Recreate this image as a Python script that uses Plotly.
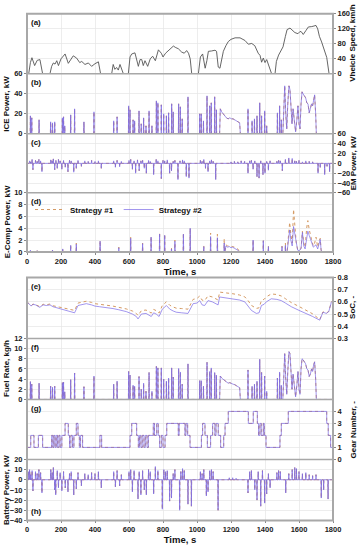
import plotly.graph_objects as go

# ---------------- data ----------------
TIME_TICKS = [0, 200, 400, 600, 800, 1000, 1200, 1400, 1600, 1800]

SPEED = [(0,0),(10,0),(20,30),(29,43),(45,22),(60,36),(76,38),(92,0),(135,0),(145,20),(155,29),(165,26),
         (175,35),(185,22),(200,40),(224,53),(243,28),(260,40),(272,48),(292,42),(310,30),(322,33),(341,25),
         (361,29),(380,20),(400,27),(420,32),(433,0),(498,0),(507,25),(517,12),(527,17),(537,10),(547,25),
         (567,0),(596,0),(606,45),(616,53),(635,56),(655,20),(665,38),(675,38),(684,22),(694,35),(710,20),
         (725,40),(739,47),(755,35),(773,64),(790,55),(800,45),(815,55),(831,62),(845,68),(861,74),(875,70),
         (890,67),(910,58),(925,55),(939,62),(950,55),(960,40),(969,0),(1008,0),(1020,45),(1033,53),(1048,15),
         (1058,35),(1067,60),(1086,61),(1106,63),(1115,60),(1125,18),(1135,15),(1145,35),(1155,60),(1170,75),
         (1184,86),(1200,92),(1224,96),(1253,96),(1282,89),(1302,79),(1322,81),(1340,75),(1351,63),(1360,55),
         (1371,49),(1380,31),(1390,42),(1400,30),(1410,38),(1420,25),(1430,15),(1439,0),(1459,0),(1467,33),
         (1480,50),(1496,63),(1506,72),(1520,100),(1530,118),(1547,122),(1560,116),(1576,110),(1594,107),
         (1606,113),(1614,112),(1625,105),(1640,115),(1655,125),(1675,126),(1694,127),(1700,129),(1710,120),
         (1720,100),(1733,85),(1747,65),(1763,44),(1777,0),(1800,0)]

ICE_S2 = [(20,18),(28,16),(71,14),(139,12),(150,11),(163,12),(208,16),(215,17),(222,8),(257,19),(280,25),
          (335,12),(394,22),(510,13),(530,17),(598,28),(606,24),(624,14),(633,13),(659,23),(672,10),(686,16),
          (700,8),(718,23),(735,8),(761,33),(770,31),(790,29),(804,20),(820,18),(833,21),(851,30),(860,22),
          (892,30),(902,27),(913,15),(947,37),(1016,20),(1025,20),(1038,13),(1059,38),(1075,28),(1084,31),
          (1104,37),(1114,24),(1300,25),(1324,13),(1338,15),(1353,18),(1369,31),(1380,18),(1398,23),(1410,8),
          (1473,21),(1486,28),(1496,14)]
ICE_S1 = ICE_S2
ICE_BAND1 = [(1133,0),(1137,25),(1145,22),(1153,20),(1163,18),(1173,16),(1183,15),(1193,16),(1203,15),
             (1212,15),(1222,14),(1235,13),(1245,12),(1251,11),(1255,0)]
ICE_BAND2 = [(1505,0),(1510,30),(1516,48),(1522,20),(1528,5),(1534,30),(1541,48),(1547,44),(1553,30),
             (1559,10),(1565,25),(1572,15),(1580,2),(1588,15),(1594,28),(1600,10),(1606,5),(1612,30),(1618,42),
             (1624,40),(1630,38),(1639,36),(1646,31),(1653,30),(1660,21),(1667,25),(1674,30),(1680,28),
             (1686,35),(1692,39),(1698,20),(1702,0)]

EM_S2 = [(15,5),(22,3),(30,8),(35,-13),(50,6),(60,4),(70,8),(80,5),(88,-17),(140,7),(148,5),(155,9),
         (163,-13),(170,6),(178,-10),(185,8),(195,5),(205,-12),(215,6),(225,-8),(241,-17),(250,6),(260,5),
         (275,-18),(290,-10),(300,6),(320,-6),(340,5),(360,4),(380,6),(400,4),(420,5),(437,-10),(510,5),
         (520,-8),(530,6),(545,-7),(555,4),(600,6),(610,8),(620,-12),(630,5),(639,-20),(650,7),(660,-15),
         (670,5),(680,6),(690,-10),(702,-20),(715,6),(725,4),(745,-23),(760,8),(770,5),(790,-31),(800,6),
         (810,5),(825,7),(839,-20),(850,-15),(860,4),(870,6),(888,-33),(900,5),(915,7),(925,5),(937,-27),
         (953,-30),(1020,6),(1030,4),(1040,8),(1050,-10),(1065,-17),(1075,5),(1085,7),(1095,4),(1110,-33),
         (1200,3),(1220,4),(1240,3),(1260,5),(1280,4),(1300,-20),(1310,5),(1320,6),(1330,-12),(1340,5),
         (1353,-27),(1365,-30),(1375,5),(1388,-23),(1400,-20),(1410,4),(1420,-14),(1430,5),(1470,4),(1480,6),
         (1490,5),(1502,-15),(1520,8),(1540,11),(1560,10),(1575,5),(1585,4),(1600,6),(1620,3),(1640,5),
         (1660,4),(1680,3),(1712,-20),(1725,-8),(1751,-23),(1765,-6),(1780,-17)]
EM_S1 = EM_S2

EC_S2 = [(20,0.3),(60,0.2),(150,0.3),(210,0.5),(257,1.1),(290,1.3),(430,1.8),(540,0.7),(610,2.3),(680,1.4),
         (730,2.5),(780,3.0),(810,2.8),(850,0.5),(870,1.8),(920,3.0),(960,4.0),(1040,0.9),(1080,2.6),(1120,2.4),
         (1160,1.5),(1330,2.0),(1390,1.9),(1420,0.9),(1500,0.9),(1520,1.1)]
EC_S1 = [(20,0.3),(60,0.2),(150,0.3),(210,0.6),(257,1.2),(290,1.5),(430,1.9),(540,0.8),(610,2.5),(680,1.5),
         (730,2.6),(780,3.3),(810,3.0),(850,0.6),(870,2.0),(920,3.2),(960,4.0),(1040,1.0),(1080,3.2),(1120,3.0),
         (1160,2.2),(1330,2.0),(1390,1.9),(1420,1.0),(1500,1.0),(1520,1.5)]
EC_BAND1_S2 = [(1165,0),(1170,1.0),(1180,0.8),(1190,0.9),(1200,0.7),(1210,0.8),(1220,0.6),(1230,0.5),
               (1240,0.3),(1250,0)]
EC_BAND1_S1 = [(1165,0),(1170,1.2),(1180,1.0),(1190,1.0),(1200,0.9),(1210,0.9),(1220,0.8),(1230,0.7),
               (1240,0.5),(1250,0)]
EC_BAND2_S2 = [(1530,0),(1538,2.0),(1545,3.7),(1552,2.0),(1560,1.0),(1568,4.3),(1576,3.0),(1584,1.0),
               (1592,0.3),(1600,0.2),(1612,0.5),(1620,3.3),(1628,1.0),(1636,0.5),(1645,2.5),(1652,3.5),
               (1660,2.8),(1668,2.0),(1676,1.5),(1684,0.8),(1692,1.0),(1700,1.2),(1710,0.5),(1718,1.5),
               (1725,2.1),(1730,0.3),(1735,0)]
EC_BAND2_S1 = [(1530,0),(1538,2.5),(1545,5.0),(1552,3.0),(1560,1.5),(1568,7.2),(1576,4.5),(1584,1.5),
               (1592,0.4),(1600,0.3),(1612,0.6),(1620,3.5),(1628,1.5),(1636,0.8),(1645,4.0),(1652,5.3),
               (1660,3.8),(1668,2.5),(1676,1.8),(1684,1.0),(1692,1.5),(1700,2.5),(1710,0.8),(1718,1.8),
               (1725,2.3),(1730,0.3),(1735,0)]

SOC_S2 = [(0,0.600),(25,0.565),(35,0.580),(50,0.575),(75,0.555),(95,0.575),(114,0.570),(135,0.575),
          (153,0.560),(180,0.550),(210,0.540),(231,0.530),(260,0.520),(280,0.510),(300,0.570),(320,0.575),
          (349,0.585),(380,0.575),(400,0.565),(427,0.560),(460,0.555),(506,0.545),(540,0.535),(584,0.520),
          (620,0.500),(643,0.480),(653,0.460),(673,0.500),(700,0.505),(731,0.480),(745,0.510),(760,0.500),
          (777,0.480),(796,0.540),(820,0.570),(840,0.540),(860,0.525),(878,0.515),(910,0.510),(947,0.505),
          (977,0.585),(1000,0.590),(1016,0.610),(1030,0.575),(1045,0.570),(1065,0.610),(1090,0.600),
          (1115,0.585),(1124,0.575),(1133,0.640),(1160,0.635),(1212,0.625),(1250,0.615),(1281,0.600),
          (1300,0.570),(1320,0.530),(1349,0.505),(1365,0.510),(1379,0.570),(1395,0.580),(1408,0.600),
          (1437,0.625),(1470,0.620),(1496,0.610),(1520,0.590),(1555,0.560),(1600,0.530),(1643,0.505),
          (1680,0.480),(1722,0.450),(1741,0.515),(1761,0.505),(1775,0.520),(1790,0.595),(1800,0.610)]
SOC_S1 = [(0,0.600),(25,0.568),(35,0.582),(50,0.578),(75,0.560),(95,0.580),(114,0.576),(135,0.582),
          (153,0.568),(180,0.560),(210,0.555),(231,0.545),(260,0.538),(280,0.530),(300,0.590),(320,0.595),
          (349,0.605),(380,0.595),(400,0.585),(427,0.580),(460,0.575),(506,0.565),(540,0.555),(584,0.542),
          (620,0.525),(643,0.505),(653,0.488),(673,0.528),(700,0.533),(731,0.508),(745,0.538),(760,0.528),
          (777,0.508),(796,0.570),(820,0.600),(840,0.572),(860,0.558),(878,0.548),(910,0.545),(947,0.540),
          (977,0.620),(1000,0.628),(1016,0.648),(1030,0.614),(1045,0.610),(1065,0.650),(1090,0.640),
          (1115,0.625),(1124,0.615),(1133,0.680),(1160,0.676),(1212,0.666),(1250,0.656),(1281,0.641),
          (1300,0.611),(1320,0.571),(1349,0.546),(1365,0.551),(1379,0.611),(1395,0.621),(1408,0.641),
          (1437,0.665),(1470,0.660),(1496,0.648),(1520,0.626),(1555,0.594),(1600,0.562),(1643,0.533),
          (1680,0.502),(1722,0.455),(1741,0.518),(1761,0.508),(1775,0.522),(1790,0.597),(1800,0.612)]

FUEL_S2 = [(20,3.5),(28,3.0),(71,3.2),(139,2.6),(150,2.4),(163,2.6),(208,3.3),(215,3.4),(222,1.5),(257,3.9),
           (280,5.2),(335,2.5),(394,4.6),(510,3.0),(530,3.6),(598,5.5),(606,4.8),(624,2.8),(633,2.6),(659,4.5),
           (672,2.0),(686,3.2),(700,1.6),(718,5.3),(735,1.6),(761,6.5),(770,6.2),(790,6.2),(804,4.0),(820,3.6),
           (833,4.2),(851,6.2),(860,4.4),(892,6.1),(902,5.4),(913,3.0),(947,7.0),(1016,3.7),(1025,3.7),
           (1038,2.6),(1059,7.3),(1075,5.5),(1084,6.2),(1104,5.3),(1114,4.8),(1300,5.8),(1324,2.6),(1338,3.0),
           (1353,3.6),(1369,7.9),(1380,5.3),(1398,4.6),(1410,1.6),(1473,4.2),(1486,5.4),(1496,2.8)]
FUEL_S1 = FUEL_S2
FUEL_BAND1 = [(1133,0),(1137,4.6),(1145,4.2),(1153,4.0),(1163,3.7),(1173,3.4),(1183,3.2),(1193,3.3),
              (1203,3.1),(1212,3.0),(1222,2.9),(1235,2.7),(1245,2.5),(1251,2.3),(1255,0)]
FUEL_BAND2 = [(1505,0),(1510,5.5),(1516,9.0),(1522,4.0),(1528,1.0),(1534,5.5),(1541,9.4),(1547,9.0),
              (1553,6.0),(1559,2.0),(1565,5.0),(1572,3.0),(1580,0.5),(1588,3.0),(1594,5.5),(1600,2.0),
              (1606,1.0),(1612,6.0),(1618,8.0),(1624,7.8),(1630,7.5),(1639,7.0),(1646,6.0),(1653,5.8),
              (1660,4.5),(1667,5.0),(1674,6.0),(1680,5.5),(1686,6.8),(1692,7.4),(1698,4.0),(1702,0)]

GEAR_S2 = [(0,1),(22,2),(41,1),(67,2),(92,1),(145,2),(152,1),(158,2),(165,1),(172,2),(180,1),(188,2),(195,1),
           (205,2),(224,3),(243,2),(250,1),(258,2),(268,1),(276,2),(290,3),(300,2),(308,1),(315,2),(327,1),
           (429,2),(439,1),(606,2),(616,3),(645,2),(655,1),(662,2),(670,1),(678,2),(688,1),(696,2),(706,1),
           (714,2),(743,3),(750,2),(763,3),(772,2),(780,1),(790,2),(800,1),(812,2),(822,3),(890,2),(895,3),
           (929,2),(935,3),(945,2),(959,1),(1026,2),(1033,3),(1047,2),(1061,1),(1080,2),(1092,3),(1105,2),
           (1112,3),(1125,2),(1139,1),(1157,2),(1165,3),(1184,4),(1302,3),(1331,4),(1355,3),(1362,2),(1370,3),
           (1378,2),(1390,3),(1396,2),(1406,1),(1488,2),(1496,3),(1537,4),(1763,3),(1772,2),(1786,1),(1800,1)]
GEAR_S1 = GEAR_S2

BAT_S2 = [(10,8),(15,10),(22,5),(30,9),(35,-11),(50,8),(60,6),(70,10),(80,7),(88,-13),(140,10),(148,7),
          (155,12),(163,-10),(169,-15),(178,9),(185,-8),(195,7),(205,-11),(215,8),(225,-8),(241,-12),(250,6),
          (260,8),(275,-15),(290,-9),(300,7),(320,-6),(340,6),(360,5),(380,7),(400,6),(420,8),(437,-8),
          (510,8),(520,-7),(530,9),(545,-6),(555,5),(600,8),(610,10),(620,-12),(630,9),(653,-19),(660,8),
          (670,-15),(680,9),(690,-10),(702,-15),(715,10),(725,8),(745,-14),(755,13),(770,9),(796,-29),
          (805,10),(815,8),(825,9),(839,-21),(850,-18),(860,6),(870,10),(898,-30),(905,8),(915,11),(925,9),
          (947,-24),(967,-26),(1020,8),(1030,6),(1040,10),(1055,-16),(1065,-12),(1075,9),(1085,10),(1095,8),
          (1124,-30),(1190,2),(1210,2),(1230,1.5),(1300,-13),(1310,8),(1320,9),(1340,-10),(1353,-20),(1360,8),
          (1375,-26),(1385,9),(1398,-23),(1410,-14),(1420,6),(1430,-8),(1470,7),(1480,9),(1490,8),(1522,-13),
          (1540,6),(1560,10),(1575,12),(1585,11),(1600,8),(1620,6),(1640,7),(1660,5),(1680,4),(1700,5),
          (1731,-18),(1745,-10),(1771,-19)]
BAT_S1 = BAT_S2

# ---------------- styling / layout helpers ----------------
W, H = 360, 550
FONT = "Liberation Sans Narrow, Arial Narrow, Liberation Sans, Arial, sans-serif"
C1 = "#d49a64"   # Strategy #1 (dotted)
C2 = "#7a68e6"   # Strategy #2 (solid)
GRID = "#e6e6e6"
FRAME = "#a8a8a8"
HW = 1.5
PL, PR = 27, 333          # plot-area pixel edges

def dom(top, bot):
    return [(H - bot) / H, (H - top) / H]

def px2paper(px):
    return (px - PL) / (PR - PL)

def series(pairs, bands=()):
    pts = [(0, 0), (1800, 0)]
    for t, v in pairs:
        pts += [(t - HW, 0), (t, v), (t + HW, 0)]
    for b in bands:
        pts += list(b)
    pts.sort(key=lambda p: p[0])
    return [p[0] for p in pts], [p[1] for p in pts]

def xy(pairs):
    return [p[0] for p in pairs], [p[1] for p in pairs]

PAN = {"a": (10, 71), "b": (71, 132), "c": (132, 192), "d": (192, 252),
       "e": (278, 340), "f": (340, 402), "g": (402, 463), "h": (463, 525)}

fig = go.Figure()

def add_pair(xa, ya, s2, s1, legend=False, shape="linear"):
    x2, y2 = s2
    x1, y1 = s1
    fig.add_trace(go.Scatter(x=x1, y=y1, xaxis=xa, yaxis=ya, mode="lines", name="Strategy #1",
                             line=dict(color=C1, width=1, dash="dot", shape=shape), showlegend=legend,
                             legendrank=1))
    fig.add_trace(go.Scatter(x=x2, y=y2, xaxis=xa, yaxis=ya, mode="lines", name="Strategy #2",
                             line=dict(color=C2, width=0.7, shape=shape), showlegend=legend,
                             legendrank=2))

# (a) speed
sx, sy = xy(SPEED)
fig.add_trace(go.Scatter(x=sx, y=sy, xaxis="x", yaxis="y", mode="lines",
                         line=dict(color="#555555", width=0.9), showlegend=False))
# (b) ICE
add_pair("x", "y2", series(ICE_S2, [ICE_BAND1, ICE_BAND2]), series(ICE_S1, [ICE_BAND1, ICE_BAND2]))
# (c) EM
add_pair("x", "y3", series(EM_S2), series(EM_S1))
# (d) E-comp
add_pair("x", "y4", series(EC_S2, [EC_BAND1_S2, EC_BAND2_S2]),
         series(EC_S1, [EC_BAND1_S1, EC_BAND2_S1]), legend=True)
# (e) SoC
add_pair("x2", "y5", xy(SOC_S2), xy(SOC_S1))
# (f) fuel
add_pair("x2", "y6", series(FUEL_S2, [FUEL_BAND1, FUEL_BAND2]), series(FUEL_S1, [FUEL_BAND1, FUEL_BAND2]))
# (g) gear
add_pair("x2", "y7", xy(GEAR_S2), xy(GEAR_S1), shape="hv")
# (h) battery
add_pair("x2", "y8", series(BAT_S2), series(BAT_S1))

tickfont = dict(family=FONT, size=7.5, color="#222", weight="bold")
TITLEFONT = dict(family=FONT, size=8, color="#111", weight="bold")

def yax(panel, side, rng, dtick=None, tickvals=None, xa="x"):
    d = dict(domain=dom(*PAN[panel]), range=rng, side=side, anchor=xa,
             tickfont=tickfont, ticks="outside", ticklen=2, tickcolor="#888",
             ticklabelstandoff=0,
             showgrid=True, gridcolor=GRID, gridwidth=0.7, zeroline=False,
             showline=False, fixedrange=True)
    if dtick is not None:
        d["dtick"] = dtick
        d["tick0"] = rng[0]
    if tickvals is not None:
        d["tickvals"] = tickvals
    return d

xcommon = dict(range=[0, 1800], tickvals=TIME_TICKS, ticks="outside", ticklen=2, tickcolor="#888",
               tickfont=tickfont, showgrid=True, gridcolor=GRID, gridwidth=0.7, zeroline=False,
               showline=False, domain=[0, 1], fixedrange=True,
               title=dict(text="Time, s", font=dict(family=FONT, size=9.5, color="#111", weight="bold"),
                          standoff=1))

fig.update_layout(
    width=W, height=H, margin=dict(l=PL, r=W - PR, t=0, b=0),
    paper_bgcolor="white", plot_bgcolor="white",
    font=dict(family=FONT, size=8, weight="bold"),
    xaxis=dict(xcommon, anchor="y4"),
    xaxis2=dict(xcommon, anchor="y8"),
    yaxis=yax("a", "right", [0, 160], dtick=40),
    yaxis2=yax("b", "left", [0, 60], dtick=20),
    yaxis3=yax("c", "right", [-60, 60], dtick=20),
    yaxis4=yax("d", "left", [0, 10], dtick=2),
    yaxis5=yax("e", "right", [0.3, 0.8], dtick=0.1, xa="x2"),
    yaxis6=yax("f", "left", [0, 12], dtick=2, xa="x2"),
    yaxis7=yax("g", "right", [0, 5], tickvals=[0, 1, 2, 3, 4], xa="x2"),
    yaxis8=yax("h", "left", [-40, 20], dtick=10, xa="x2"),
    legend=dict(orientation="h", x=px2paper(30), y=dom(*PAN["d"])[1] - 0.004, xanchor="left",
                yanchor="top", bgcolor="rgba(255,255,255,0)",
                font=dict(family=FONT, size=8, color="#111", weight="bold"),
                itemwidth=30, tracegroupgap=0, traceorder="normal"),
    showlegend=True,
)

# frames and panel dividers
shapes = []
for top, bot in [(PAN["a"][0], PAN["d"][1]), (PAN["e"][0], PAN["h"][1])]:
    d0, d1 = dom(top, bot)
    shapes.append(dict(type="rect", xref="paper", yref="paper", x0=0, x1=1, y0=d0, y1=d1,
                       line=dict(color=FRAME, width=2), layer="above"))
for p in ["a", "b", "c", "e", "f", "g"]:
    yb = dom(*PAN[p])[0]
    shapes.append(dict(type="line", xref="paper", yref="paper", x0=0, x1=1, y0=yb, y1=yb,
                       line=dict(color=FRAME, width=1.5), layer="above"))
fig.update_layout(shapes=shapes)

ann = []
for p in "abcdefg":
    ann.append(dict(text=f"({p})", xref="paper", yref="paper", x=0.008, y=dom(*PAN[p])[1] - 0.004,
                    xanchor="left", yanchor="top", showarrow=False,
                    font=dict(family=FONT, size=8, color="#111", weight="bold")))
ann.append(dict(text="(h)", xref="paper", yref="paper", x=0.008, y=dom(*PAN["h"])[0] + 0.004,
                xanchor="left", yanchor="bottom", showarrow=False,
                font=dict(family=FONT, size=8, color="#111", weight="bold")))

# axis titles (rotated), placed beside the tick labels
YTITLES = [("a", "Vheicle Speed, km/h", "right"), ("b", "ICE Power, kW", "left"),
           ("c", "EM Power, kW", "right"), ("d", "E-Comp Power, kW", "left"),
           ("e", "SoC, -", "right"), ("f", "Fuel Rate, kg/h", "left"),
           ("g", "Gear Number, -", "right"), ("h", "Battery Power, kW", "left")]
for p, txt, side in YTITLES:
    d0, d1 = dom(*PAN[p])
    ann.append(dict(text=txt, xref="paper", yref="paper",
                    x=px2paper(7 if side == "left" else 353), y=(d0 + d1) / 2,
                    xanchor="center", yanchor="middle", textangle=-90, showarrow=False,
                    font=TITLEFONT))
fig.update_layout(annotations=ann)

fig.write_html("out.html", config={"displayModeBar": False, "staticPlot": True},
               post_script="document.body.style.margin='0px';document.body.style.overflow='hidden';")
